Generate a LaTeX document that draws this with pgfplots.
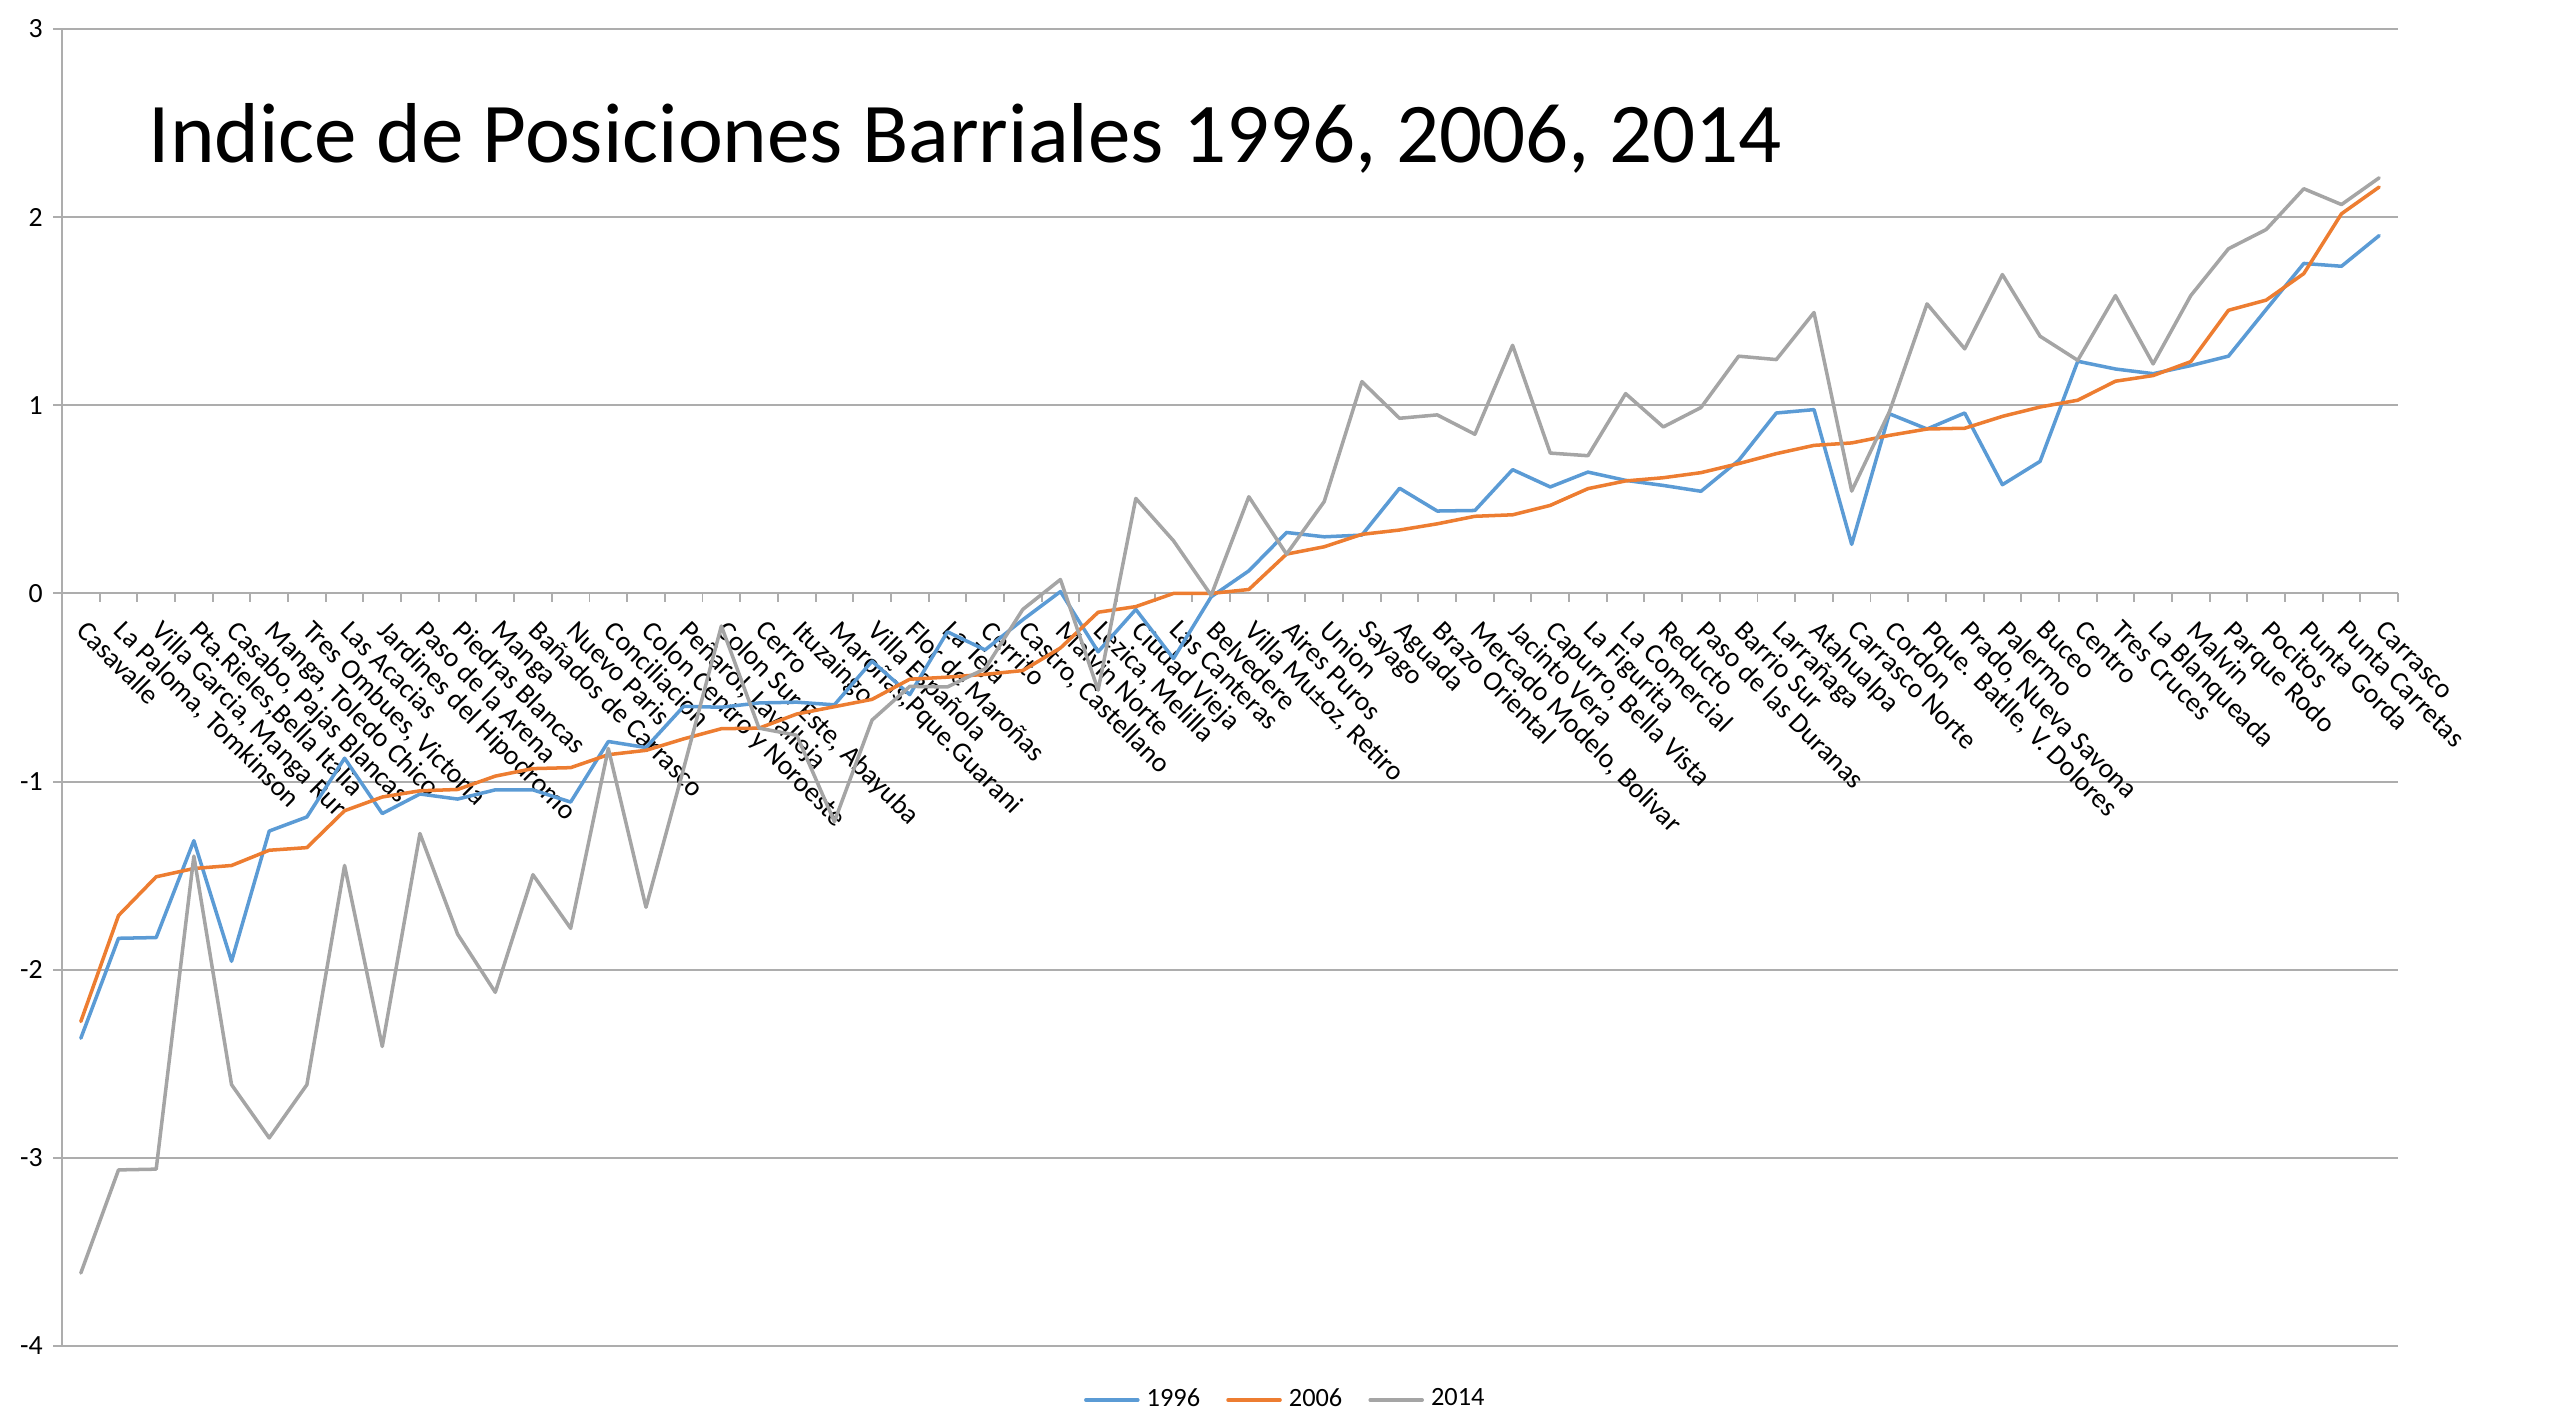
\documentclass[border=0pt]{standalone}
\usepackage{fontspec}
\setmainfont{Carlito}
\usepackage{pgfplots}
\usepackage{pgfplotstable}
\pgfplotsset{compat=1.18}
\definecolor{s96}{HTML}{5B9BD5}
\definecolor{s06}{HTML}{ED7D31}
\definecolor{s14}{HTML}{A5A5A5}
\definecolor{gridc}{HTML}{ADADAD}

% category index, 1996, 2006, 2014
\pgfplotstableread{
x y96 y06 y14
0 -2.364 -2.275 -3.612
1 -1.833 -1.712 -3.064
2 -1.829 -1.506 -3.060
3 -1.314 -1.462 -1.396
4 -1.955 -1.446 -2.611
5 -1.263 -1.365 -2.894
6 -1.188 -1.351 -2.611
7 -0.876 -1.155 -1.446
8 -1.170 -1.082 -2.408
9 -1.066 -1.049 -1.276
10 -1.093 -1.042 -1.811
11 -1.044 -0.971 -2.120
12 -1.044 -0.931 -1.495
13 -1.109 -0.926 -1.780
14 -0.787 -0.857 -0.824
15 -0.819 -0.834 -1.668
16 -0.600 -0.773 -0.930
17 -0.605 -0.719 -0.173
18 -0.582 -0.716 -0.716
19 -0.578 -0.641 -0.754
20 -0.592 -0.602 -1.213
21 -0.360 -0.563 -0.673
22 -0.538 -0.456 -0.494
23 -0.204 -0.445 -0.497
24 -0.300 -0.430 -0.400
25 -0.140 -0.410 -0.085
26 0.010 -0.290 0.074
27 -0.310 -0.100 -0.514
28 -0.085 -0.070 0.505
29 -0.346 0.000 0.280
30 -0.018 0.000 -0.010
31 0.120 0.021 0.514
32 0.324 0.209 0.209
33 0.301 0.248 0.488
34 0.310 0.314 1.126
35 0.559 0.337 0.931
36 0.438 0.370 0.949
37 0.441 0.410 0.846
38 0.658 0.418 1.319
39 0.566 0.468 0.746
40 0.645 0.557 0.732
41 0.601 0.598 1.062
42 0.574 0.615 0.885
43 0.543 0.642 0.988
44 0.707 0.690 1.261
45 0.959 0.743 1.243
46 0.977 0.787 1.493
47 0.261 0.800 0.544
48 0.955 0.840 0.965
49 0.874 0.874 1.539
50 0.959 0.878 1.300
51 0.578 0.941 1.695
52 0.702 0.991 1.367
53 1.234 1.027 1.239
54 1.193 1.128 1.583
55 1.168 1.158 1.220
56 1.211 1.232 1.583
57 1.261 1.505 1.832
58 1.509 1.559 1.934
59 1.754 1.700 2.151
60 1.739 2.018 2.067
61 1.902 2.160 2.209
}\barrios

\newcommand{\smallfont}{\fontsize{7.9}{9}\selectfont}

\begin{document}
\begin{tikzpicture}
\useasboundingbox (0,0) rectangle (25.54cm,14.11cm);
\begin{axis}[
    at={(0.62cm,0.65cm)}, anchor=south west,
    scale only axis, width=23.36cm, height=13.17cm,
    xmin=-0.5, xmax=61.5, ymin=-4, ymax=3,
    axis x line=middle, axis y line=left,
    axis line style={-, draw=gridc, line width=0.55pt},
    ymajorgrids, grid style={draw=gridc, line width=0.55pt},
    ytick={-4,...,3},
    /pgf/number format/assume math mode=true,
    tick align=outside,
    major tick length=0.085cm,
    ytick style={draw=gridc, line width=0.55pt},
    xtick style={draw=none},
    yticklabel style={font=\smallfont, inner sep=0pt, xshift=-0.1cm},
    xtick={0,...,61},
    xticklabels={Casavalle, {La Paloma, Tomkinson}, {Villa Garcia, Manga Rur},
        {Pta.Rieles,Bella Italia}, {Casabo, Pajas Blancas}, {Manga, Toledo Chico},
        {Tres Ombues, Victoria}, Las Acacias, Jardines del Hipodromo, Paso de la Arena,
        Piedras Blancas, Manga, Bañados de Carrasco, Nuevo Paris, Conciliacion,
        Colon Centro y Noroeste, {Peñarol, Lavalleja}, {Colon Sur Este, Abayuba}, Cerro,
        Ituzaingo, {Maroñas,Pque.Guarani}, Villa Española, Flor de Maroñas, La Teja,
        Cerrito, {Castro, Castellano}, Malvin Norte, {Lezica, Melilla}, Ciudad Vieja,
        Las Canteras, Belvedere, {Villa Mu±oz, Retiro}, Aires Puros, Union, Sayago,
        Aguada, Brazo Oriental, {Mercado Modelo, Bolivar}, Jacinto Vera,
        {Capurro, Bella Vista}, La Figurita, La Comercial, Reducto, Paso de las Duranas,
        Barrio Sur, Larrañaga, Atahualpa, Carrasco Norte, Cordon,
        {Pque. Batlle, V. Dolores}, {Prado, Nueva Savona}, Palermo, Buceo, Centro,
        Tres Cruces, La Blanqueada, Malvin, Parque Rodo, Pocitos, Punta Gorda,
        Punta Carretas, Carrasco},
    xticklabel style={font=\smallfont, inner sep=0pt, xshift=0.08cm, yshift=-0.16cm, rotate=-45, anchor=north west},
    extra x ticks={0.5,1.5,...,61.5},
    extra x tick labels={},
    extra x tick style={xtick style={draw=gridc, line width=0.55pt}},
    legend style={at={(0.5237,-0.041)}, anchor=center, draw=none, fill=none,
        font=\fontsize{7.5}{9}\selectfont, inner sep=0pt,
        nodes={inner sep=0.6pt},
        /tikz/every odd column/.append style={column sep=0.05cm},
        /tikz/every even column/.append style={column sep=0.24cm}},
    legend columns=3,
    legend image code/.code={\draw[#1, line cap=round] (0cm,0cm) -- (0.52cm,0cm);},
    every axis plot/.append style={line width=1pt, line join=round, line cap=round},
]
\addplot[s96] table[x=x, y=y96] {\barrios};
\addplot[s06] table[x=x, y=y06] {\barrios};
\addplot[s14] table[x=x, y=y14] {\barrios};
\legend{1996, 2006, 2014}
\end{axis}
\node[anchor=base west, inner sep=0pt, font=\fontsize{24.2}{28}\selectfont]
    at (1.48cm,12.48cm) {Indice de Posiciones Barriales 1996, 2006, 2014};
\end{tikzpicture}
\end{document}
